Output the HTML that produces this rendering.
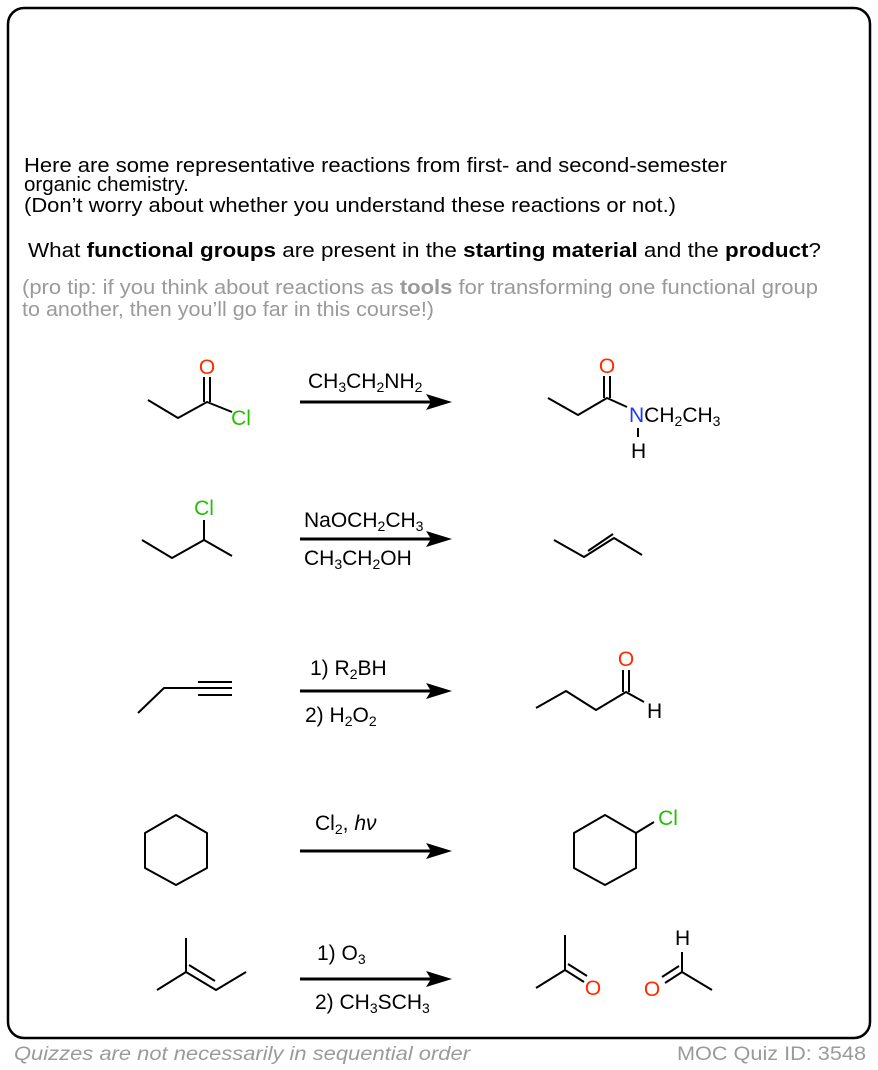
<!DOCTYPE html>
<html><head><meta charset="utf-8"><style>
html,body{margin:0;padding:0;background:#fff;}
svg{display:block;font-family:"Liberation Sans",Arial,sans-serif;}
</style></head><body>
<svg width="878" height="1070" viewBox="0 0 878 1070" xmlns="http://www.w3.org/2000/svg">
<rect x="8" y="8" width="862" height="1030" rx="16" fill="#fff" stroke="#000" stroke-width="2.5"/>
<g font-size="20.5" fill="#000">
<text x="24" y="172" textLength="703" lengthAdjust="spacingAndGlyphs">Here are some representative reactions from first- and second-semester</text>
<text x="24" y="191">organic chemistry.</text>
<text x="24" y="212" textLength="652" lengthAdjust="spacingAndGlyphs">(Don’t worry about whether you understand these reactions or not.)</text>
<text x="28" y="257" textLength="793" lengthAdjust="spacingAndGlyphs">What <tspan font-weight="bold">functional groups</tspan> are present in the <tspan font-weight="bold">starting material</tspan> and the <tspan font-weight="bold">product</tspan>?</text>
</g>
<g font-size="20.5" fill="#9a9a9a">
<text x="22" y="294" textLength="796" lengthAdjust="spacingAndGlyphs">(pro tip: if you think about reactions as <tspan font-weight="bold">tools</tspan> for transforming one functional group</text>
<text x="22" y="316" textLength="412" lengthAdjust="spacingAndGlyphs">to another, then you’ll go far in this course!)</text>
</g>
<g font-size="19" fill="#9a9a9a">
<text x="14" y="1060" font-style="italic" textLength="456" lengthAdjust="spacingAndGlyphs">Quizzes are not necessarily in sequential order</text>
<text x="677" y="1060" textLength="189" lengthAdjust="spacingAndGlyphs">MOC Quiz ID: 3548</text>
</g>

<g stroke="#000" stroke-width="2" fill="none" stroke-linejoin="round">
<polyline points="148,400 178,418 207,402 232,412"/>
<line x1="204" y1="402" x2="204" y2="377"/><line x1="210" y1="402" x2="210" y2="377"/>
<polyline points="548,398 578,415 607,398 627,407"/>
<line x1="604" y1="398" x2="604" y2="376"/><line x1="610" y1="398" x2="610" y2="376"/>
<line x1="638" y1="428" x2="638" y2="437"/>
<polyline points="142,540 172,558 204,540 232,556"/>
<line x1="204" y1="540" x2="204" y2="520"/>
<polyline points="554,540 584,557 614,538 642,555"/>
<line x1="588" y1="551" x2="613" y2="534"/>
<polyline points="138,713 164,688 198,688"/>
<line x1="198" y1="682" x2="232" y2="682"/><line x1="198" y1="688" x2="232" y2="688"/><line x1="198" y1="695" x2="232" y2="695"/>
<polyline points="536,708 566,691 596,710 626,692 644,702"/>
<line x1="623" y1="692" x2="623" y2="670"/><line x1="629" y1="692" x2="629" y2="670"/>
<polygon points="176,815 207,833 207,868 176,885 145,868 145,833"/>
<polygon points="605,815 636,833 636,868 605,885 574,868 574,833"/>
<line x1="636" y1="833" x2="654" y2="822"/>
<polyline points="186,938 186,972 157,990"/>
<polyline points="186,972 216,990 246,972"/>
<line x1="189" y1="965" x2="215" y2="981"/>
<polyline points="565,935 565,970 536,988"/>
<line x1="565" y1="970" x2="584" y2="982"/><line x1="568" y1="964" x2="587" y2="976"/>
<polyline points="682,952 682,972 712,990"/>
<line x1="682" y1="972" x2="665" y2="983"/><line x1="679" y1="966" x2="662" y2="977"/>
</g>
<g stroke="#000" stroke-width="3">
<line x1="300" y1="402" x2="435" y2="402"/><line x1="300" y1="539" x2="435" y2="539"/>
<line x1="300" y1="691" x2="435" y2="691"/><line x1="300" y1="851" x2="435" y2="851"/>
<line x1="300" y1="979" x2="435" y2="979"/>
</g>
<g fill="#000">
<polygon points="452,402 426,394 431,402 426,410"/>
<polygon points="452,539 426,531 431,539 426,547"/>
<polygon points="452,691 426,683 431,691 426,699"/>
<polygon points="452,851 426,843 431,851 426,859"/>
<polygon points="452,979 426,971 431,979 426,987"/>
</g>
<g font-size="21" fill="#000">
<text x="308" y="388">CH<tspan font-size="14" dy="4">3</tspan><tspan dy="-4">CH</tspan><tspan font-size="14" dy="4">2</tspan><tspan dy="-4">NH</tspan><tspan font-size="14" dy="4">2</tspan></text>
<text x="304" y="527">NaOCH<tspan font-size="14" dy="4">2</tspan><tspan dy="-4">CH</tspan><tspan font-size="14" dy="4">3</tspan></text>
<text x="304" y="565">CH<tspan font-size="14" dy="4">3</tspan><tspan dy="-4">CH</tspan><tspan font-size="14" dy="4">2</tspan><tspan dy="-4">OH</tspan></text>
<text x="310" y="675">1) R<tspan font-size="14" dy="4">2</tspan><tspan dy="-4">BH</tspan></text>
<text x="305" y="722">2) H<tspan font-size="14" dy="4">2</tspan><tspan dy="-4">O</tspan><tspan font-size="14" dy="4">2</tspan></text>
<text x="315" y="830">Cl<tspan font-size="14" dy="4">2</tspan><tspan dy="-4">, </tspan><tspan font-style="italic">hν</tspan></text>
<text x="317" y="960">1) O<tspan font-size="14" dy="4">3</tspan></text>
<text x="315" y="1009">2) CH<tspan font-size="14" dy="4">3</tspan><tspan dy="-4">SCH</tspan><tspan font-size="14" dy="4">3</tspan></text>
<text x="629" y="422"><tspan fill="#1a3cff">N</tspan>CH<tspan font-size="14" dy="4">2</tspan><tspan dy="-4">CH</tspan><tspan font-size="14" dy="4">3</tspan></text>
<text x="631" y="458">H</text>
<text x="647" y="718">H</text>
<text x="675" y="945">H</text>
</g>
<g font-size="21" text-anchor="middle">
<text x="207" y="374" fill="#ff2a00">O</text>
<text x="241" y="425" fill="#22c000">Cl</text>
<text x="607" y="373" fill="#ff2a00">O</text>
<text x="204" y="515" fill="#22c000">Cl</text>
<text x="626" y="666" fill="#ff2a00">O</text>
<text x="668" y="825" fill="#22c000">Cl</text>
<text x="593" y="995" fill="#ff2a00">O</text>
<text x="652" y="996" fill="#ff2a00">O</text>
</g>
</svg>
</body></html>
